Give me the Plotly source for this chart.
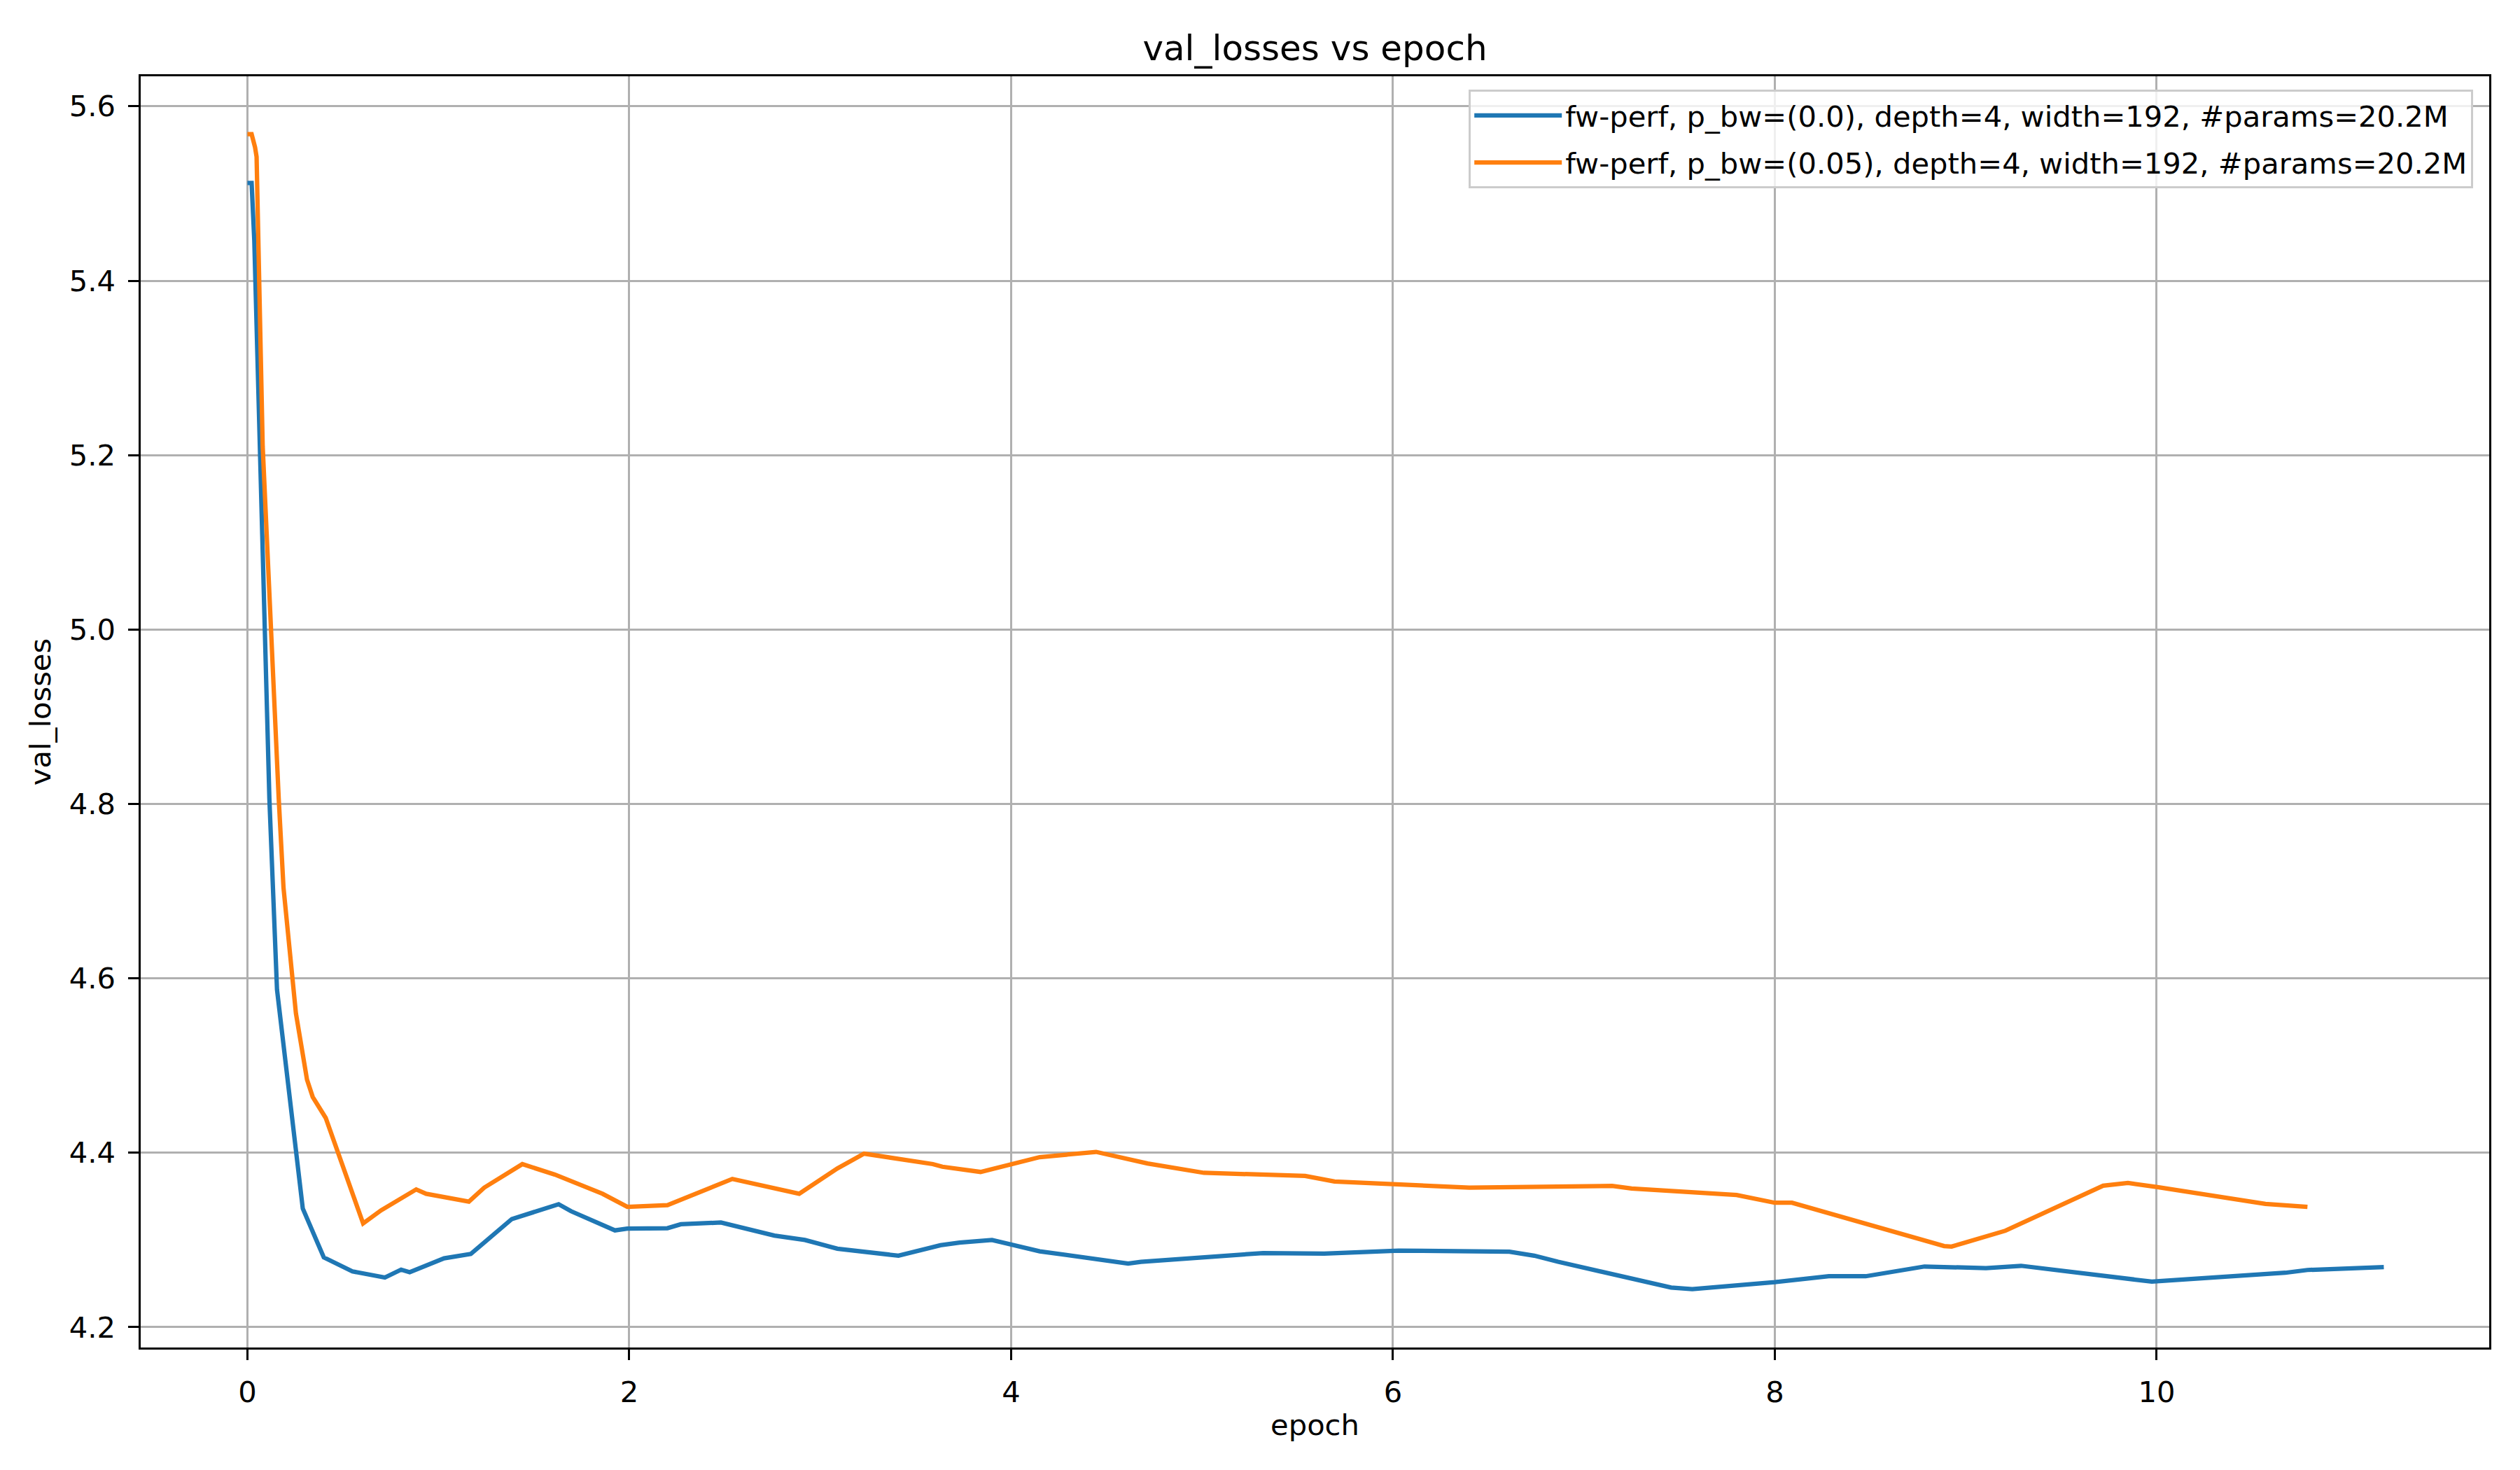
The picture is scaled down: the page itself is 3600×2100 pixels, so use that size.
import plotly.graph_objects as go

# matplotlib-like export: 12x7 in at 300 dpi -> 3600x2100 px, 1pt = 300/72 px
PT = 300 / 72
BODY = 8  # default <body> margin of the written page

blue_label = "fw-perf, p_bw=(0.0), depth=4, width=192, #params=20.2M"
orange_label = "fw-perf, p_bw=(0.05), depth=4, width=192, #params=20.2M"

blue_epoch = [0, 0.022, 0.036, 0.07, 0.115, 0.155, 0.29, 0.40, 0.55, 0.72, 0.805, 0.85,
              1.03, 1.17, 1.385, 1.63, 1.695, 1.925, 1.99, 2.2, 2.27, 2.48, 2.76, 2.92,
              3.09, 3.41, 3.63, 3.73, 3.90, 4.15, 4.613, 4.68, 5.205, 5.32, 5.64, 6.03,
              6.61, 6.74, 6.865, 7.457, 7.568, 8.0, 8.283, 8.476, 8.784, 9.106, 9.29,
              9.975, 10.674, 10.79, 11.19]
blue_loss = [5.512, 5.512, 5.446, 5.185, 4.806, 4.587, 4.336, 4.28, 4.264, 4.257, 4.266, 4.263,
             4.279, 4.284, 4.324, 4.341, 4.333, 4.311, 4.313, 4.3135, 4.318, 4.320, 4.305, 4.300,
             4.290, 4.282, 4.294, 4.297, 4.300, 4.287, 4.273, 4.275, 4.2825, 4.285, 4.2843, 4.2878,
             4.2865, 4.282, 4.275, 4.2455, 4.2437, 4.2517, 4.2584, 4.2584, 4.2696, 4.2677, 4.2704,
             4.2522, 4.2624, 4.2656, 4.269]

orange_epoch = [0, 0.022, 0.04, 0.048, 0.08, 0.12, 0.164, 0.189, 0.254, 0.312, 0.342, 0.41,
                0.606, 0.70, 0.884, 0.936, 1.16, 1.24, 1.44, 1.61, 1.70, 1.86, 1.99, 2.20,
                2.54, 2.89, 3.09, 3.23, 3.59, 3.64, 3.84, 4.15, 4.445, 4.715, 5.01, 5.54,
                5.694, 6.40, 7.148, 7.25, 7.80, 8.0, 8.09, 8.887, 8.926, 9.208, 9.72, 9.85,
                10.005, 10.57, 10.79]
orange_loss = [5.568, 5.568, 5.553, 5.542, 5.21, 5.006, 4.806, 4.704, 4.56, 4.484, 4.464, 4.44,
               4.319, 4.334, 4.358, 4.353, 4.344, 4.36, 4.387, 4.375, 4.367, 4.353, 4.338, 4.340,
               4.370, 4.353, 4.382, 4.399, 4.387, 4.384, 4.378, 4.395, 4.401, 4.3877, 4.377, 4.3735,
               4.367, 4.36, 4.362, 4.359, 4.3515, 4.3427, 4.3427, 4.293, 4.2924, 4.3106, 4.3622, 4.3654,
               4.3606, 4.3414, 4.3379]

x_ticks = [0, 2, 4, 6, 8, 10]
y_ticks = [4.2, 4.4, 4.6, 4.8, 5.0, 5.2, 5.4, 5.6]


def main():
    fig = make_figure()
    fig.write_html("out.html")


def make_figure():
    fig = go.Figure()
    # separate legend groups so tracegroupgap spaces the two legend rows like matplotlib
    fig.add_trace(go.Scatter(x=blue_epoch, y=blue_loss, mode="lines", name=blue_label,
                             legendgroup="blue",
                             line=dict(color="#1f77b4", width=1.5 * PT)))
    fig.add_trace(go.Scatter(x=orange_epoch, y=orange_loss, mode="lines", name=orange_label,
                             legendgroup="orange",
                             line=dict(color="#ff7f0e", width=1.5 * PT)))

    font = "DejaVu Sans, Liberation Sans, sans-serif"
    axis_style = dict(
        showline=True, linecolor="black", linewidth=0.8 * PT, mirror=True,
        ticks="outside", ticklen=3.5 * PT, tickwidth=0.8 * PT, tickcolor="black",
        showgrid=True, gridcolor="#b0b0b0", gridwidth=0.8 * PT, zeroline=False,
        tickfont=dict(family=font, size=10 * PT, color="black"),
        ticklabelstandoff=int(3.5 * PT) - 4,
    )
    fig.update_xaxes(range=[-0.559, 11.742], tickvals=x_ticks, ticktext=[str(t) for t in x_ticks],
                     title=dict(text="epoch", font=dict(family=font, size=10 * PT, color="black"),
                                standoff=10),
                     **axis_style)
    fig.update_yaxes(range=[4.1767, 5.6344], tickvals=y_ticks, ticktext=[f"{t:.1f}" for t in y_ticks],
                     title=dict(text="val_losses", font=dict(family=font, size=10 * PT, color="black"),
                                standoff=14),
                     **axis_style)

    # plot area wanted at x 201..3556, y 109..1925 of the screenshot
    fig.update_layout(
        width=3600, height=2100,
        margin=dict(l=201 - BODY, r=44 + BODY, t=109 - BODY, b=175 + BODY),
        paper_bgcolor="white", plot_bgcolor="white",
        title=dict(text="val_losses vs epoch", x=0.5, xref="paper", xanchor="center",
                   y=1 - (68 - BODY) / 2100, yref="container", yanchor="middle",
                   font=dict(family=font, size=12 * PT, color="black")),
        legend=dict(x=0.9931, y=0.9895, xanchor="right", yanchor="top",
                    bgcolor="rgba(255,255,255,0.8)", bordercolor="#cccccc", borderwidth=0.8 * PT,
                    font=dict(family=font, size=10 * PT, color="black"),
                    itemwidth=125, traceorder="grouped", tracegroupgap=10),
        showlegend=True,
    )
    return fig


if __name__ == "__main__":
    main()
